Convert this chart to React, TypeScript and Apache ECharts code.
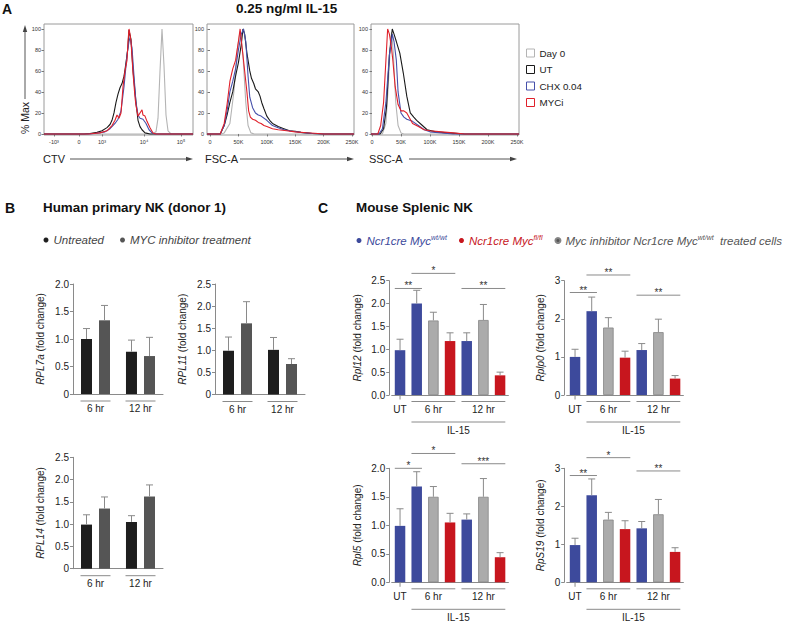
import React, { useEffect, useRef } from 'react';
import * as echarts from 'echarts';

const FONT = '"Liberation Sans", Arial, Helvetica, sans-serif';

// ---------------- Panel A: flow cytometry histograms ----------------
const histSeriesNames = ['Day 0', 'UT', 'CHX 0.04', 'MYCi'];
const histColors = ['#b4b4b4', '#1a1a1a', '#4650aa', '#e0202a'];
const pctMaxTicks = [0, 20, 40, 60, 80, 100];

// CTV (display channel of the biexponential axis)
const ctvTickValues = [10, 35, 58, 100, 137];
const ctvTickLabels = ['-10³', '0', '10³', '10⁴', '10⁵'];
const ctvDay0 = [[0, 0], [108, 0], [112, 2], [114, 15], [116, 60], [118, 100], [120, 65], [122, 18], [124, 3], [127, 0], [149, 0]];
const ctvUT = [[0, 0], [40, 0], [46, 0.5], [53, 1.5], [58, 3], [63, 6], [66, 9], [68, 13], [70, 20], [72, 30], [74, 38], [76, 44], [78, 48], [80, 55], [81, 61], [83, 75], [84, 83], [85, 99], [86, 94], [87, 90], [89, 61], [91, 40], [92, 30], [94, 13], [96, 7], [98, 4], [101, 1], [106, 0], [149, 0]];
const ctvCHX = [[0, 0], [45, 0], [51, 0.5], [61, 2], [66, 5], [71, 10], [74, 14], [77, 22], [80, 45], [83, 75], [85, 88], [86, 92], [88, 82], [90, 55], [92, 30], [94, 18], [96, 15], [99, 14], [102, 10], [105, 4], [108, 1], [111, 0], [149, 0]];
const ctvMYCi = [[0, 0], [45, 0], [49, 0.5], [56, 1], [63, 3], [68, 8], [71, 13], [73, 18], [75, 15], [77, 20], [79, 45], [81, 60], [83, 70], [84, 88], [85, 100], [86, 95], [87, 88], [89, 58], [91, 35], [92, 27], [94, 17], [96, 20], [98, 23], [99, 18], [101, 17], [103, 12], [106, 6], [109, 1], [112, 0], [149, 0]];

// FSC-A / SSC-A in thousands
const scatterTickValues = [0, 50, 100, 150, 200, 250];
const scatterTickLabels = ['0', '50K', '100K', '150K', '200K', '250K'];
const fscDay0 = [[-5.3, 0], [20, 0], [25, 1], [35, 10], [42, 40], [48, 80], [53, 98], [58, 75], [63, 30], [67, 8], [72, 1], [78, 0], [253.5, 0]];
const fscUT = [[-5.3, 0], [18, 0], [25, 8], [30, 18], [35, 30], [40, 40], [45, 55], [50, 68], [55, 85], [58, 100], [61, 95], [65, 77], [70, 60], [73, 53], [77, 48], [80, 43], [85, 40], [88, 36], [91, 30], [95, 24], [100, 17], [105, 13], [110, 10], [120, 7], [130, 5], [140, 3], [150, 2.5], [160, 1.5], [170, 1], [180, 0.5], [200, 0], [253.5, 0]];
const fscCHX = [[-5.3, 0], [18, 0], [25, 8], [30, 22], [35, 40], [40, 50], [45, 62], [50, 80], [55, 95], [59, 100], [63, 88], [67, 55], [70, 35], [75, 25], [80, 20], [85, 18], [90, 17], [100, 13], [110, 8], [120, 6], [130, 4], [145, 2.5], [160, 1.5], [180, 0.5], [200, 0], [253.5, 0]];
const fscMYCi = [[-5.3, 0], [18, 0], [25, 10], [30, 28], [35, 50], [40, 62], [45, 70], [50, 88], [53, 100], [56, 85], [60, 65], [65, 40], [68, 22], [71, 16], [75, 14], [80, 13], [85, 11], [90, 10], [95, 8], [100, 7], [110, 5], [120, 4], [135, 3], [150, 2], [170, 1.2], [190, 0.5], [200, 0], [253.5, 0]];
const sscDay0 = [[-1.7, 0], [18, 0], [24, 10], [28, 45], [32, 90], [34, 97], [37, 75], [41, 30], [45, 8], [50, 1], [55, 0], [253.5, 0]];
const sscUT = [[-1.7, 0], [14, 0], [20, 5], [25, 25], [30, 75], [35, 100], [38, 95], [42, 88], [48, 77], [54, 58], [60, 36], [66, 20], [72, 16], [77, 13], [85, 9], [95, 4], [110, 2], [130, 1], [150, 0.3], [160, 0], [253.5, 0]];
const sscCHX = [[-1.7, 0], [12, 0], [18, 5], [24, 30], [30, 75], [35, 95], [38, 88], [42, 70], [45, 40], [50, 20], [55, 16], [60, 14], [70, 12], [80, 8], [90, 4], [100, 2], [120, 1], [140, 0], [253.5, 0]];
const sscMYCi = [[-1.7, 0], [10, 0], [15, 8], [20, 30], [24, 70], [27, 100], [30, 95], [33, 85], [36, 70], [40, 45], [45, 28], [50, 22], [55, 22], [60, 20], [65, 15], [70, 10], [80, 7], [90, 4], [100, 3], [120, 2], [140, 1], [160, 0], [253.5, 0]];

// ---------------- Panel B: human primary NK ----------------
const bTimes = ['6 hr', '12 hr'];
const bNames = ['Untreated', 'MYC inhibitor treatment'];
const rpl7aUntreated = [1.0, 0.77];
const rpl7aUntreatedErr = [1.19, 0.98];
const rpl7aInhibitor = [1.34, 0.69];
const rpl7aInhibitorErr = [1.61, 1.03];
const rpl11Untreated = [0.99, 1.01];
const rpl11UntreatedErr = [1.3, 1.29];
const rpl11Inhibitor = [1.61, 0.69];
const rpl11InhibitorErr = [2.1, 0.81];
const rpl14Untreated = [0.99, 1.05];
const rpl14UntreatedErr = [1.21, 1.19];
const rpl14Inhibitor = [1.35, 1.62];
const rpl14InhibitorErr = [1.61, 1.88];

// ---------------- Panel C: mouse splenic NK ----------------
const cCategories = ['UT', '6 hr wt/wt', '6 hr inhibitor', '6 hr fl/fl', '12 hr wt/wt', '12 hr inhibitor', '12 hr fl/fl'];
const cTickLabels = ['UT', '', '6 hr', '', '', '12 hr', ''];
const cGroups = [0, 0, 1, 2, 0, 1, 2]; // 0 wt/wt, 1 inhibitor, 2 fl/fl
const cNames = ['Ncr1cre Myc wt/wt', 'Myc inhibitor Ncr1cre Myc wt/wt treated cells', 'Ncr1cre Myc fl/fl'];
const rpl12 = [0.98, 2.0, 1.63, 1.18, 1.18, 1.64, 0.43];
const rpl12Err = [1.22, 2.29, 1.81, 1.36, 1.36, 1.98, 0.5];
const rplp0 = [1.0, 2.2, 1.77, 0.98, 1.18, 1.65, 0.43];
const rplp0Err = [1.2, 2.57, 2.03, 1.15, 1.35, 1.99, 0.51];
const rpl5 = [0.99, 1.68, 1.5, 1.05, 1.1, 1.5, 0.44];
const rpl5Err = [1.29, 1.94, 1.68, 1.21, 1.2, 1.82, 0.52];
const rps19 = [0.98, 2.29, 1.65, 1.4, 1.42, 1.79, 0.8];
const rps19Err = [1.16, 2.72, 1.84, 1.62, 1.6, 2.18, 0.91];
const rpl12Sig = [[0, 1, 2.33], [1, 3, 2.66], [4, 6, 2.33]];
const rpl12SigLabels = ['**', '*', '**'];
const rplp0Sig = [[0, 1, 2.69], [1, 3, 3.15], [4, 6, 2.62]];
const rplp0SigLabels = ['**', '**', '**'];
const rpl5Sig = [[0, 1, 2.0], [1, 3, 2.26], [4, 6, 2.08]];
const rpl5SigLabels = ['*', '*', '***'];
const rps19Sig = [[0, 1, 2.81], [1, 3, 3.28], [4, 6, 2.93]];
const rps19SigLabels = ['**', '*', '**'];
// [first category, last category, level] — level 0: time underline, 1: IL-15 underline, 2: UT tick
const cGroupLines = [[0, 0, 2], [1, 3, 0], [4, 6, 0], [1, 6, 1]];

const cColors = ['#3d4a9c', '#ababab', '#c7161e'];
const bColors = ['#1e1e1e', '#555555'];

function buildOption() {
  const grids: any[] = [];
  const xAxes: any[] = [];
  const yAxes: any[] = [];
  const series: any[] = [];

  const histPanels = [
    { min: 0, max: 149, left: 44, width: 149, tv: ctvTickValues, tl: ctvTickLabels, data: [ctvDay0, ctvUT, ctvCHX, ctvMYCi] },
    { min: -5.3, max: 253.5, left: 207, width: 147, tv: scatterTickValues, tl: scatterTickLabels, data: [fscDay0, fscUT, fscCHX, fscMYCi] },
    { min: -1.7, max: 253.5, left: 371, width: 148, tv: scatterTickValues, tl: scatterTickLabels, data: [sscDay0, sscUT, sscCHX, sscMYCi] },
  ];
  histPanels.forEach((p) => {
    const gi = grids.length;
    grids.push({ left: p.left, top: 24, width: p.width, height: 111, show: true, borderColor: '#9a9a9a', borderWidth: 1 });
    xAxes.push({
      gridIndex: gi, type: 'value', min: p.min, max: p.max,
      axisLine: { show: false }, splitLine: { show: false },
      axisTick: { show: true, customValues: p.tv, length: 2.5, lineStyle: { color: '#777' } },
      axisLabel: { customValues: p.tv, formatter: (v: number) => { const k = p.tv.indexOf(v); return k >= 0 ? p.tl[k] : ''; }, fontSize: 5.5, color: '#333', margin: 4 },
    });
    yAxes.push({
      gridIndex: gi, type: 'value', min: -1, max: 104.7,
      axisLine: { show: false }, splitLine: { show: false },
      axisTick: { show: true, customValues: pctMaxTicks, length: 2.5, lineStyle: { color: '#777' } },
      axisLabel: { customValues: pctMaxTicks, fontSize: 5.5, color: '#333', margin: 3 },
    });
    p.data.forEach((d, si) => {
      series.push({
        type: 'line', name: histSeriesNames[si], xAxisIndex: gi, yAxisIndex: gi, data: d,
        symbol: 'none', showSymbol: false, silent: true, z: 2 + si,
        lineStyle: { width: 1.1, color: histColors[si] }, itemStyle: { color: histColors[si] },
      });
    });
  });

  const errRender = (offsets: number[], color: string) => (params: any, api: any) => {
    const cat = api.value(0);
    const v = api.value(1);
    const e = api.value(2);
    const g = api.value(3) || 0;
    const p0 = api.coord([cat, v]);
    const p1 = api.coord([cat, e]);
    const x = p0[0] + (offsets[g] || 0);
    return {
      type: 'group',
      children: [
        { type: 'line', shape: { x1: x, y1: p0[1], x2: x, y2: p1[1] }, style: { stroke: color, lineWidth: 1 } },
        { type: 'line', shape: { x1: x - 3.5, y1: p1[1], x2: x + 3.5, y2: p1[1] }, style: { stroke: color, lineWidth: 1 } },
      ],
    };
  };

  const yName = (gene: string) => `{i|${gene}} (fold change)`;
  const nameStyle = { fontSize: 10, color: '#222', rich: { i: { fontStyle: 'italic', fontSize: 10, color: '#222' } } };

  // Panel B
  const bPanels = [
    { gene: 'RPL7a', left: 73, top: 284, height: 110, max: 2, u: rpl7aUntreated, ue: rpl7aUntreatedErr, m: rpl7aInhibitor, me: rpl7aInhibitorErr },
    { gene: 'RPL11', left: 215, top: 284, height: 110.5, max: 2.5, u: rpl11Untreated, ue: rpl11UntreatedErr, m: rpl11Inhibitor, me: rpl11InhibitorErr },
    { gene: 'RPL14', left: 73, top: 457.3, height: 111.4, max: 2.5, u: rpl14Untreated, ue: rpl14UntreatedErr, m: rpl14Inhibitor, me: rpl14InhibitorErr },
  ];
  bPanels.forEach((p) => {
    const gi = grids.length;
    grids.push({ left: p.left, top: p.top, width: 90, height: p.height });
    xAxes.push({
      gridIndex: gi, type: 'category', data: bTimes,
      axisLine: { lineStyle: { color: '#8a8a8a' } }, axisTick: { show: false },
      axisLabel: { fontSize: 10, color: '#222', margin: 9.5 },
    });
    yAxes.push({
      gridIndex: gi, type: 'value', min: 0, max: p.max, interval: 0.5,
      axisLine: { show: true, lineStyle: { color: '#8a8a8a' } },
      axisTick: { show: true, length: 3, lineStyle: { color: '#8a8a8a' } },
      splitLine: { show: false },
      axisLabel: { fontSize: 10, color: '#222', margin: 4, formatter: (v: number) => (v === 0 ? '0' : v.toFixed(1)) },
      name: yName(p.gene), nameLocation: 'middle', nameGap: 27.5, nameRotate: 90, nameTextStyle: nameStyle,
    });
    [p.u, p.m].forEach((vals, k) => {
      series.push({
        type: 'bar', name: bNames[k], xAxisIndex: gi, yAxisIndex: gi, data: vals,
        barWidth: 11, barGap: '64%', itemStyle: { color: bColors[k] }, silent: true,
      });
    });
    const errData: number[][] = [];
    p.u.forEach((v, i) => errData.push([i, v, p.ue[i], 0]));
    p.m.forEach((v, i) => errData.push([i, v, p.me[i], 1]));
    series.push({ type: 'custom', xAxisIndex: gi, yAxisIndex: gi, data: errData, renderItem: errRender([-9, 9], '#8a8a8a'), clip: false, z: 5, silent: true });
    series.push({
      type: 'custom', xAxisIndex: gi, yAxisIndex: gi, data: bTimes.map((_, i) => [i, 0]), clip: false, z: 5, silent: true,
      renderItem: (params: any, api: any) => {
        const c = api.coord([api.value(0), 0]);
        return { type: 'line', shape: { x1: c[0] - 15, y1: c[1] + 7, x2: c[0] + 15, y2: c[1] + 7 }, style: { stroke: '#8a8a8a', lineWidth: 1 } };
      },
    });
  });

  // Panel C
  const cPanels = [
    { gene: 'Rpl12', left: 391.7, top: 280.7, height: 114.3, max: 2.5, interval: 0.5, fixed: true, gap: 27, v: rpl12, e: rpl12Err, sig: rpl12Sig, sl: rpl12SigLabels },
    { gene: 'Rplp0', left: 566.7, top: 280.7, height: 114.3, max: 3, interval: 1, fixed: false, gap: 19, v: rplp0, e: rplp0Err, sig: rplp0Sig, sl: rplp0SigLabels },
    { gene: 'Rpl5', left: 391.7, top: 468.3, height: 114, max: 2, interval: 0.5, fixed: true, gap: 27, v: rpl5, e: rpl5Err, sig: rpl5Sig, sl: rpl5SigLabels },
    { gene: 'RpS19', left: 566.7, top: 468.3, height: 114, max: 3, interval: 1, fixed: false, gap: 19, v: rps19, e: rps19Err, sig: rps19Sig, sl: rps19SigLabels },
  ];
  const half = 5.25;
  cPanels.forEach((p) => {
    const gi = grids.length;
    grids.push({ left: p.left, top: p.top, width: 116.7, height: p.height });
    xAxes.push({
      gridIndex: gi, type: 'category', data: cCategories,
      axisLine: { lineStyle: { color: '#8a8a8a' } }, axisTick: { show: false },
      axisLabel: { interval: 0, fontSize: 10, color: '#222', margin: 9, formatter: (_: string, idx: number) => cTickLabels[idx] },
    });
    yAxes.push({
      gridIndex: gi, type: 'value', min: 0, max: p.max, interval: p.interval, offset: 2.5,
      axisLine: { show: true, lineStyle: { color: '#8a8a8a' } },
      axisTick: { show: true, length: 3, lineStyle: { color: '#8a8a8a' } },
      splitLine: { show: false },
      axisLabel: { fontSize: 10, color: '#222', margin: 4, formatter: (v: number) => (p.fixed ? v.toFixed(1) : String(v)) },
      name: yName(p.gene), nameLocation: 'middle', nameGap: p.gap, nameRotate: 90, nameTextStyle: nameStyle,
    });
    [0, 1, 2].forEach((k) => {
      series.push({
        type: 'bar', name: cNames[k], xAxisIndex: gi, yAxisIndex: gi,
        data: p.v.map((v, i) => (cGroups[i] === k ? v : '-')),
        barWidth: 10.5, barGap: '-100%', silent: true,
        itemStyle: { color: cColors[k], borderColor: k === 1 ? '#858585' : cColors[k], borderWidth: k === 1 ? 0.8 : 0 },
      });
    });
    series.push({
      type: 'custom', xAxisIndex: gi, yAxisIndex: gi, data: p.v.map((v, i) => [i, v, p.e[i], 0]),
      renderItem: errRender([0], '#8a8a8a'), clip: false, z: 5, silent: true,
    });
    const sl = p.sl;
    series.push({
      type: 'custom', xAxisIndex: gi, yAxisIndex: gi, data: p.sig, clip: false, z: 5, silent: true,
      renderItem: (params: any, api: any) => {
        const a = api.coord([api.value(0), api.value(2)]);
        const b = api.coord([api.value(1), api.value(2)]);
        const x1 = a[0] - half;
        const x2 = b[0] + half;
        return {
          type: 'group',
          children: [
            { type: 'line', shape: { x1, y1: a[1], x2, y2: a[1] }, style: { stroke: '#8a8a8a', lineWidth: 1 } },
            { type: 'text', x: (x1 + x2) / 2, y: a[1] + 2.5, style: { text: sl[params.dataIndex], align: 'center', textAlign: 'center', verticalAlign: 'bottom', textVerticalAlign: 'bottom', fontSize: 10, fontFamily: FONT, fill: '#333' } },
          ],
        };
      },
    });
    series.push({
      type: 'custom', xAxisIndex: gi, yAxisIndex: gi, data: cGroupLines, clip: false, z: 5, silent: true,
      renderItem: (params: any, api: any) => {
        const a = api.coord([api.value(0), 0]);
        const b = api.coord([api.value(1), 0]);
        const lvl = api.value(2);
        if (lvl === 2) {
          return { type: 'line', shape: { x1: a[0], y1: a[1], x2: a[0], y2: a[1] + 4.5 }, style: { stroke: '#8a8a8a', lineWidth: 1 } };
        }
        const y = a[1] + (lvl ? 27 : 6.5);
        const children: any[] = [
          { type: 'line', shape: { x1: a[0] - half, y1: y, x2: b[0] + half, y2: y }, style: { stroke: '#8a8a8a', lineWidth: 1 } },
        ];
        if (lvl) {
          children.push({ type: 'text', x: (a[0] + b[0]) / 2, y: y + 8.5, style: { text: 'IL-15', align: 'center', textAlign: 'center', verticalAlign: 'middle', textVerticalAlign: 'middle', fontSize: 10, fontFamily: FONT, fill: '#222' } });
        }
        return { type: 'group', children };
      },
    });
  });

  const arrow = (x1: number, x2: number, y: number) => [
    { type: 'line', shape: { x1, y1: y, x2: x2 - 5, y2: y }, style: { stroke: '#555', lineWidth: 1 } },
    { type: 'polygon', shape: { points: [[x2, y], [x2 - 7, y - 2.2], [x2 - 7, y + 2.2]] }, style: { fill: '#444' } },
  ];

  const cLegendFmt: Record<string, string> = {
    'Ncr1cre Myc wt/wt': '{b|Ncr1cre Myc}{bs|wt/wt}',
    'Ncr1cre Myc fl/fl': '{r|Ncr1cre Myc}{rs|fl/fl}',
    'Myc inhibitor Ncr1cre Myc wt/wt treated cells': '{g|Myc inhibitor Ncr1cre Myc}{gs|wt/wt}{g|  treated cells}',
  };
  const legTxt = (color: string) => ({ fontSize: 11.5, fontStyle: 'italic', color, fontFamily: FONT, lineHeight: 13 });
  const legSup = (color: string) => ({ fontSize: 7, fontStyle: 'italic', color, fontFamily: FONT, verticalAlign: 'top', lineHeight: 13, padding: [0, 0, 5, 0] });
  const titleStyle = (size: number) => ({ fontSize: size, fontWeight: 'bold', color: '#111', fontFamily: FONT });

  return {
    animation: false,
    backgroundColor: '#ffffff',
    textStyle: { fontFamily: FONT },
    title: [
      { text: 'A', left: 2, top: 2, padding: 0, textStyle: titleStyle(14) },
      { text: '0.25 ng/ml IL-15', left: 236, top: 1, padding: 0, textStyle: titleStyle(13.5) },
      { text: 'B', left: 5, top: 201, padding: 0, textStyle: titleStyle(14) },
      { text: 'Human primary NK (donor 1)', left: 43, top: 201, padding: 0, textStyle: titleStyle(13.4) },
      { text: 'C', left: 318, top: 201, padding: 0, textStyle: titleStyle(14) },
      { text: 'Mouse Splenic NK', left: 356, top: 201, padding: 0, textStyle: titleStyle(13.4) },
    ],
    legend: [
      {
        orient: 'vertical', left: 526, top: 47, padding: 0, icon: 'rect', itemWidth: 8, itemHeight: 8, itemGap: 4.5, selectedMode: false,
        textStyle: { fontSize: 9.8, color: '#222', fontFamily: FONT, lineHeight: 12 },
        data: histSeriesNames.map((n, i) => ({ name: n, itemStyle: { color: '#ffffff', borderColor: histColors[i], borderWidth: 1 } })),
      },
      {
        orient: 'horizontal', left: 43.5, top: 234, padding: 0, icon: 'circle', itemWidth: 5, itemHeight: 5, itemGap: 16, selectedMode: false,
        textStyle: { fontSize: 11.5, fontStyle: 'italic', color: '#444', fontFamily: FONT },
        data: bNames.map((n, i) => ({ name: n, itemStyle: { color: bColors[i] } })),
      },
      {
        orient: 'horizontal', left: 356.5, top: 234, padding: 0, icon: 'circle', itemWidth: 5, itemHeight: 5, itemGap: 12, selectedMode: false,
        formatter: (n: string) => cLegendFmt[n] || n,
        textStyle: {
          fontSize: 11.5, fontFamily: FONT,
          rich: { b: legTxt(cColors[0]), bs: legSup(cColors[0]), r: legTxt(cColors[2]), rs: legSup(cColors[2]), g: legTxt('#555'), gs: legSup('#555') },
        },
        data: [
          { name: cNames[0], itemStyle: { color: cColors[0] } },
          { name: 'Ncr1cre Myc fl/fl', itemStyle: { color: cColors[2] } },
          { name: cNames[1], itemStyle: { color: '#555' } },
        ],
      },
    ],
    graphic: [
      { type: 'text', x: 25, y: 118, rotation: Math.PI / 2, style: { text: '% Max', align: 'center', textAlign: 'center', verticalAlign: 'middle', textVerticalAlign: 'middle', fontSize: 10.5, fontFamily: FONT, fill: '#222' } },
      { type: 'line', shape: { x1: 25, y1: 99, x2: 25, y2: 31 }, style: { stroke: '#555', lineWidth: 1 } },
      { type: 'polygon', shape: { points: [[25, 25], [22.8, 32], [27.2, 32]] }, style: { fill: '#444' } },
      { type: 'text', x: 43, y: 159, style: { text: 'CTV', align: 'left', textAlign: 'left', verticalAlign: 'middle', textVerticalAlign: 'middle', fontSize: 11, fontFamily: FONT, fill: '#222' } },
      ...arrow(70, 193, 159),
      { type: 'text', x: 205, y: 159, style: { text: 'FSC-A', align: 'left', textAlign: 'left', verticalAlign: 'middle', textVerticalAlign: 'middle', fontSize: 11, fontFamily: FONT, fill: '#222' } },
      ...arrow(240, 354, 159),
      { type: 'text', x: 369, y: 159, style: { text: 'SSC-A', align: 'left', textAlign: 'left', verticalAlign: 'middle', textVerticalAlign: 'middle', fontSize: 11, fontFamily: FONT, fill: '#222' } },
      ...arrow(409, 517, 159),
    ],
    grid: grids,
    xAxis: xAxes,
    yAxis: yAxes,
    series,
  };
}

export default function App() {
  const ref = useRef<HTMLDivElement>(null);
  useEffect(() => {
    document.body.style.margin = '0';
    const chart = echarts.init(ref.current!, null, { renderer: 'svg' });
    chart.setOption(buildOption() as any);
    return () => chart.dispose();
  }, []);
  return <div ref={ref} style={{ width: 785, height: 622 }} />;
}
